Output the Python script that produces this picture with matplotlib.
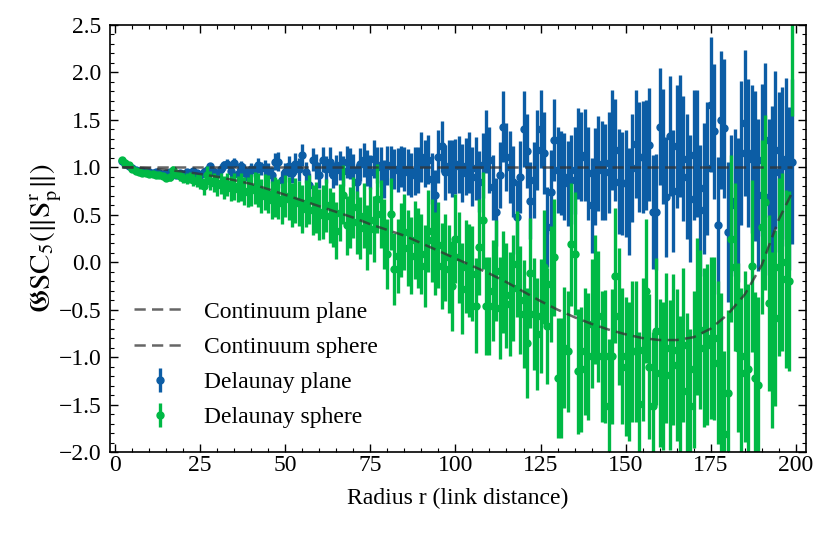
import numpy as np
import matplotlib
matplotlib.use("Agg")
import matplotlib.pyplot as plt
from matplotlib.ticker import MultipleLocator

# ---------------- data ----------------
r = np.arange(2, 200)

plane_val = [
    1.07, 1.04, 1.01, 0.99, 0.97, 0.96, 0.96, 0.95, 0.95, 0.94,
    0.95, 0.94, 0.93, 0.94, 0.95, 0.93, 0.92, 0.94, 0.93, 0.95,
    0.93, 0.96, 0.94, 0.92, 0.95, 0.97, 1.01, 0.95, 0.93, 0.98,
    1.02, 1.04, 0.96, 1.05, 0.93, 1.01, 0.97, 0.90, 0.98, 0.97,
    1.02, 0.99, 1.00, 0.96, 0.92, 1.06, 1.06, 0.87, 0.95, 1.01,
    0.94, 1.04, 0.98, 1.13, 0.95, 0.81, 1.08, 1.01, 0.92, 1.08,
    0.98, 1.06, 0.92, 0.97, 1.02, 0.96, 1.06, 1.04, 0.97, 0.85,
    1.03, 1.08, 0.99, 0.95, 1.09, 1.02, 1.00, 0.88, 1.02, 1.01,
    0.98, 0.97, 1.01, 0.98, 0.95, 0.92, 0.96, 0.97, 1.11, 1.04,
    1.08, 0.88, 0.71, 1.11, 1.22, 0.95, 1.01, 0.99, 1.01, 1.03,
    0.94, 1.01, 1.05, 0.90, 0.99, 0.85, 1.02, 1.27, 1.08, 0.79,
    0.53, 0.92, 1.43, 1.11, 1.00, 0.85, 0.48, 0.90, 1.40, 1.17,
    0.65, 0.87, 1.18, 1.40, 1.15, 0.37, 0.74, 1.29, 0.97, 0.94,
    0.90, 0.83, 0.87, 0.97, 1.15, 1.11, 1.13, 0.94, 0.60, 0.90,
    1.04, 0.97, 0.95, 1.05, 1.29, 1.18, 0.85, 0.83, 0.83, 0.64,
    0.99, 1.25, 1.11, 1.11, 1.13, 1.24, 0.53, 0.53, 1.43, 1.22,
    0.69, 1.33, 0.75, 1.22, 1.33, 1.09, 0.90, 0.67, 1.13, 1.15,
    0.55, 0.78, 0.99, 1.66, 1.38, 0.39, 1.50, 1.41, 0.32, 0.60,
    0.65, 0.55, 1.15, 1.47, 1.15, 1.09, 1.01, 0.71, 1.08, 1.29,
    0.69, 0.83, 1.18, 0.95, 1.01, 1.09, 0.78, 1.06,
]

plane_err = [
    0.01, 0.01, 0.01, 0.01, 0.01, 0.01, 0.01, 0.01, 0.01, 0.01,
    0.01, 0.01, 0.01, 0.02, 0.02, 0.02, 0.02, 0.02, 0.02, 0.03,
    0.03, 0.03, 0.03, 0.03, 0.04, 0.04, 0.04, 0.04, 0.05, 0.05,
    0.05, 0.05, 0.06, 0.05, 0.06, 0.06, 0.07, 0.06, 0.07, 0.07,
    0.08, 0.07, 0.08, 0.09, 0.08, 0.09, 0.10, 0.09, 0.10, 0.11,
    0.10, 0.11, 0.12, 0.12, 0.11, 0.13, 0.12, 0.13, 0.14, 0.13,
    0.14, 0.15, 0.14, 0.16, 0.15, 0.16, 0.17, 0.16, 0.17, 0.18,
    0.17, 0.18, 0.19, 0.18, 0.20, 0.19, 0.21, 0.20, 0.21, 0.22,
    0.21, 0.23, 0.22, 0.23, 0.24, 0.23, 0.25, 0.24, 0.26, 0.25,
    0.26, 0.27, 0.26, 0.28, 0.27, 0.29, 0.28, 0.30, 0.29, 0.30,
    0.31, 0.30, 0.32, 0.31, 0.33, 0.32, 0.34, 0.33, 0.35, 0.34,
    0.36, 0.35, 0.37, 0.36, 0.38, 0.37, 0.39, 0.38, 0.40, 0.39,
    0.41, 0.40, 0.42, 0.41, 0.43, 0.42, 0.44, 0.43, 0.45, 0.44,
    0.46, 0.45, 0.47, 0.46, 0.48, 0.47, 0.49, 0.49, 0.50, 0.51,
    0.50, 0.52, 0.51, 0.53, 0.53, 0.54, 0.55, 0.54, 0.56, 0.56,
    0.57, 0.57, 0.58, 0.59, 0.58, 0.60, 0.60, 0.61, 0.62, 0.61,
    0.63, 0.63, 0.64, 0.65, 0.64, 0.66, 0.66, 0.67, 0.68, 0.67,
    0.69, 0.69, 0.70, 0.71, 0.71, 0.72, 0.73, 0.73, 0.74, 0.74,
    0.75, 0.76, 0.76, 0.77, 0.78, 0.78, 0.79, 0.80, 0.80, 0.81,
    0.82, 0.82, 0.83, 0.84, 0.84, 0.85, 0.86, 0.87,
]

sphere_val = [
    1.08, 1.05, 1.02, 0.98, 0.96, 0.95, 0.94, 0.94, 0.93, 0.93,
    0.92, 0.92, 0.91, 0.89, 0.90, 0.97, 0.93, 0.91, 0.89, 0.88,
    0.89, 0.87, 0.86, 0.85, 0.80, 0.92, 0.86, 0.84, 0.81, 0.83,
    0.79, 0.82, 0.78, 0.80, 0.77, 0.79, 0.75, 0.74, 0.76, 0.78,
    0.76, 0.70, 0.74, 0.72, 0.66, 0.69, 0.67, 0.62, 0.70, 0.67,
    0.60, 0.65, 0.62, 0.56, 0.62, 0.66, 0.55, 0.58, 0.50, 0.53,
    0.60, 0.49, 0.45, 0.33, 0.52, 0.71, 0.39, 0.47, 0.58, 0.42,
    0.36, 0.49, 0.26, 0.44, 0.35, 0.67, 0.51, 0.30, 0.09, 0.51,
    -0.07, 0.07, 0.23, 0.32, 0.15, 0.07, 0.23, 0.15, 0.09, -0.04,
    0.33, 0.23, 0.09, 0.18, -0.04, 0.05, -0.07, -0.25, 0.25, 0.05,
    -0.28, -0.05, -0.09, -0.12, -0.46, 0.16, 0.44, -0.46, -0.46, -0.30,
    -0.09, -0.48, -0.21, -0.35, -0.44, -0.27, -0.02, -0.40, -0.55, -0.85,
    -0.11, -0.55, -0.76, -0.57, -0.05, -0.67, -0.23, 0.05, -1.22, -1.22,
    -0.90, -0.94, 0.19, 0.09, -1.15, -1.13, -0.94, -0.99, -0.65, -0.39,
    -0.57, -0.99, -0.99, -1.51, -0.99, -0.14, -0.57, -0.99, -1.10, -1.15,
    -0.94, -0.94, -1.49, -0.92, -0.30, -1.10, -1.51, -0.73, -1.17, -1.20,
    -0.90, -1.19, -0.92, -1.08, -1.38, -0.87, -1.36, -1.52, -1.13, -0.57,
    -0.71, -0.90, -0.87, -0.80, -0.80, -1.06, -1.19, -1.81, -1.38, 0.25,
    -0.05, -0.90, -1.17, -0.99, -1.13, -0.04, -1.22, -1.29, 0.37, 0.63,
    -0.43, -0.82, -0.59, -0.05, 0.00, -0.18, -0.20, 2.60,
]

sphere_err = [
    0.01, 0.01, 0.01, 0.01, 0.01, 0.02, 0.02, 0.02, 0.02, 0.02,
    0.03, 0.03, 0.03, 0.03, 0.04, 0.04, 0.04, 0.05, 0.05, 0.06,
    0.06, 0.07, 0.07, 0.08, 0.09, 0.09, 0.10, 0.10, 0.11, 0.11,
    0.12, 0.12, 0.13, 0.14, 0.14, 0.15, 0.15, 0.16, 0.17, 0.17,
    0.18, 0.18, 0.19, 0.20, 0.20, 0.21, 0.21, 0.22, 0.22, 0.23,
    0.23, 0.24, 0.24, 0.25, 0.25, 0.26, 0.26, 0.27, 0.27, 0.28,
    0.28, 0.29, 0.29, 0.30, 0.30, 0.31, 0.31, 0.32, 0.32, 0.33,
    0.33, 0.34, 0.34, 0.35, 0.35, 0.36, 0.36, 0.37, 0.37, 0.38,
    0.38, 0.39, 0.39, 0.40, 0.40, 0.41, 0.41, 0.42, 0.42, 0.43,
    0.43, 0.44, 0.44, 0.45, 0.45, 0.46, 0.46, 0.47, 0.47, 0.48,
    0.48, 0.49, 0.49, 0.50, 0.50, 0.51, 0.51, 0.52, 0.52, 0.53,
    0.53, 0.54, 0.54, 0.55, 0.55, 0.56, 0.56, 0.57, 0.57, 0.58,
    0.58, 0.59, 0.59, 0.60, 0.60, 0.61, 0.61, 0.62, 0.63, 0.63,
    0.64, 0.64, 0.65, 0.65, 0.66, 0.66, 0.67, 0.67, 0.68, 0.68,
    0.69, 0.69, 0.70, 0.70, 0.71, 0.71, 0.72, 0.72, 0.73, 0.73,
    0.74, 0.74, 0.75, 0.75, 0.76, 0.76, 0.77, 0.77, 0.78, 0.78,
    0.79, 0.79, 0.80, 0.80, 0.81, 0.81, 0.82, 0.82, 0.83, 0.83,
    0.84, 0.84, 0.85, 0.85, 0.86, 0.86, 0.87, 0.87, 0.88, 0.88,
    0.89, 0.89, 0.90, 0.90, 0.90, 0.91, 0.91, 0.92, 0.92, 0.92,
    0.93, 0.93, 0.93, 0.94, 0.94, 0.94, 0.95, 1.06,
]

# continuum curves
cont_r = [2, 5, 10, 15, 20, 25, 30, 35, 40, 45, 50, 55, 60, 65, 70, 75, 80,
          85, 90, 95, 100, 105, 110, 115, 120, 125, 130, 135, 140, 145, 150,
          155, 160, 165, 170, 175, 180, 185, 190, 195, 199]
cont_sphere = [1.00, 1.00, 0.99, 0.975, 0.955, 0.93, 0.90, 0.865, 0.825, 0.77,
               0.71, 0.65, 0.59, 0.53, 0.47, 0.40, 0.34, 0.28, 0.20, 0.12,
               0.04, -0.04, -0.12, -0.21, -0.31, -0.41, -0.50, -0.58, -0.65,
               -0.71, -0.76, -0.80, -0.82, -0.82, -0.79, -0.70, -0.55, -0.34,
               -0.03, 0.45, 0.74]
cont_plane_r = [2, 199]
cont_plane = [1.0, 1.0]

BLUE = "#0C5DA5"
GREEN = "#00B945"

plt.rcParams.update({
    "font.family": "serif",
    "font.serif": ["Liberation Serif", "DejaVu Serif"],
    "mathtext.fontset": "stix",
    "font.size": 17,
    "axes.linewidth": 1.2,
    "xtick.direction": "in",
    "ytick.direction": "in",
    "xtick.top": True,
    "ytick.right": True,
    "xtick.major.size": 6,
    "ytick.major.size": 6,
    "xtick.minor.size": 3,
    "ytick.minor.size": 3,
    "xtick.major.width": 1.0,
    "ytick.major.width": 1.0,
    "xtick.minor.width": 0.8,
    "ytick.minor.width": 0.8,
    "xtick.major.pad": 2,
    "ytick.major.pad": 6,
})

fig = plt.figure(figsize=(8.3, 5.33), dpi=100)
ax = fig.add_axes([110 / 830, 81 / 533, 696 / 830, 427 / 533])

ax.errorbar(r, plane_val, yerr=plane_err, fmt="o", color=BLUE, ms=5,
            elinewidth=2.4, capsize=0, label="Delaunay plane", zorder=2)
ax.errorbar(r, sphere_val, yerr=sphere_err, fmt="o", color=GREEN, ms=5,
            elinewidth=2.4, capsize=0, label="Delaunay sphere", zorder=2.1)
ax.plot(cont_plane_r, cont_plane, color="#333333", alpha=0.75, lw=1.8,
        dashes=(4.5, 2.5), label="Continuum plane", zorder=4)
ax.plot(cont_r, cont_sphere, color="#333333", alpha=0.75, lw=1.8,
        dashes=(4.5, 2.5), label="Continuum sphere", zorder=4)

ax.set_xlim(-1.5, 203)
ax.set_ylim(-2.0, 2.5)
ax.xaxis.set_major_locator(MultipleLocator(25))
ax.xaxis.set_minor_locator(MultipleLocator(5))
ax.yaxis.set_major_locator(MultipleLocator(0.5))
ax.yaxis.set_minor_locator(MultipleLocator(0.1))

ax.set_xlabel("Radius r (link distance)", labelpad=9)
ax.set_ylabel(r"$\mathfrak{G}\mathrm{SC}_5(\|\mathrm{S}_\mathrm{p}^\mathrm{r}\|)$",
              fontsize=21, labelpad=-4)

ax.legend(loc="lower left", frameon=False, handlelength=2.2,
          handletextpad=0.8, labelspacing=0.58, borderaxespad=0.6)

fig.savefig("out.png", dpi=100)
